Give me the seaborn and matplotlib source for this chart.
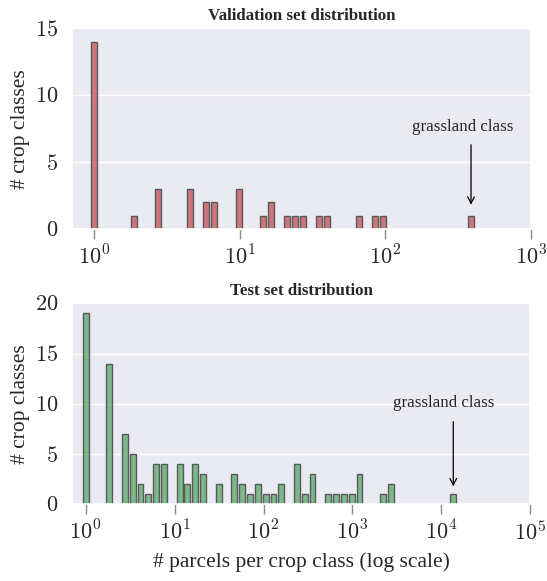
import matplotlib
matplotlib.use("Agg")
import matplotlib.pyplot as plt
import numpy as np
import seaborn as sns
from matplotlib.ticker import FuncFormatter

# Validation set: parcels per crop class (bar position) and number of classes
val_parcels = [1, 1.9, 2.8, 4.6, 5.9, 6.7, 9.8, 14.4, 16.3, 21, 23.8, 27,
               34.7, 39.4, 66, 85, 96, 389]
val_classes = [14, 1, 3, 3, 2, 2, 3, 1, 2, 1, 1, 1, 1, 1, 1, 1, 1, 1]

# Test set
test_parcels = [1, 1.84, 2.75, 3.37, 4.13, 5.06, 6.19, 7.58, 11.4, 13.9, 17.1,
                20.9, 31.3, 46.9, 57.5, 70.4, 86.1, 105, 129, 158, 237, 290,
                356, 533, 653, 800, 979, 1200, 2200, 2700, 13600]
test_classes = [19, 14, 7, 5, 2, 1, 4, 4, 4, 2, 4, 3, 2, 3, 2, 1, 2, 1, 1, 2,
                4, 1, 3, 1, 1, 1, 1, 3, 1, 2, 1]

val_yticks = [0, 5, 10, 15]
test_yticks = [0, 5, 10, 15, 20]

N_BINS = 48


def draw_panel(ax, parcels, n_classes, color, title, yticks, xmax, note_xy, note_text_xy):
    logmax = np.log10(max(parcels))
    step = logmax / (N_BINS - 1)
    sns.histplot(
        x=parcels,
        weights=n_classes,
        bins=N_BINS,
        binrange=(-step / 2, logmax + step / 2),
        log_scale=True,
        shrink=0.75,
        color=color,
        alpha=0.75,
        edgecolor="0.35",
        linewidth=1.0,
        ax=ax,
    )
    ax.set_xlim(10 ** -0.15, xmax)
    ax.set_ylim(yticks[0], yticks[-1])
    ax.set_yticks(yticks)
    ax.yaxis.set_major_formatter(FuncFormatter(lambda v, p: f"${int(v)}$"))
    ax.xaxis.set_major_formatter(
        FuncFormatter(lambda v, p: f"$10^{{{int(round(np.log10(v)))}}}$")
    )
    ax.xaxis.set_minor_locator(matplotlib.ticker.NullLocator())
    ax.grid(axis="x", visible=False)
    ax.tick_params(axis="x", which="major", bottom=True, length=7, width=1,
                   color="0.55", labelsize=16, pad=5)
    ax.tick_params(axis="y", labelsize=16, pad=4, left=False)
    ax.set_ylabel("# crop classes", fontsize=15.5)
    ax.set_xlabel("")
    ax.set_title(title, fontsize=12.2, fontweight="bold", pad=6)

    # grassland annotation
    ax.annotate("", xy=note_xy[0], xytext=note_xy[1],
                arrowprops=dict(arrowstyle="->", color="black", lw=0.9))
    ax.text(note_text_xy[0], note_text_xy[1], "grassland class",
            ha="center", va="center", fontsize=12.2)


sns.set_theme(style="darkgrid")
plt.rcParams["font.family"] = ["Liberation Serif", "DejaVu Serif"]
plt.rcParams["mathtext.fontset"] = "cm"

fig = plt.figure(figsize=(5.47, 5.81), dpi=100)
ax1 = fig.add_axes([0.1322, 0.6059, 0.8380, 0.3454])
ax2 = fig.add_axes([0.1322, 0.1320, 0.8373, 0.3460])

draw_panel(ax1, val_parcels, val_classes, "#C44E52", "Validation set distribution",
           val_yticks, 1e3, ((389, 1.6), (389, 6.5)), (342, 7.6))
draw_panel(ax2, test_parcels, test_classes, "#55A868", "Test set distribution",
           test_yticks, 1e5, ((13600, 1.5), (13600, 8.5)), (10700, 10.1))
ax2.set_xlabel("# parcels per crop class (log scale)", fontsize=15.5, labelpad=5)

fig.savefig("out.png", dpi=100)
